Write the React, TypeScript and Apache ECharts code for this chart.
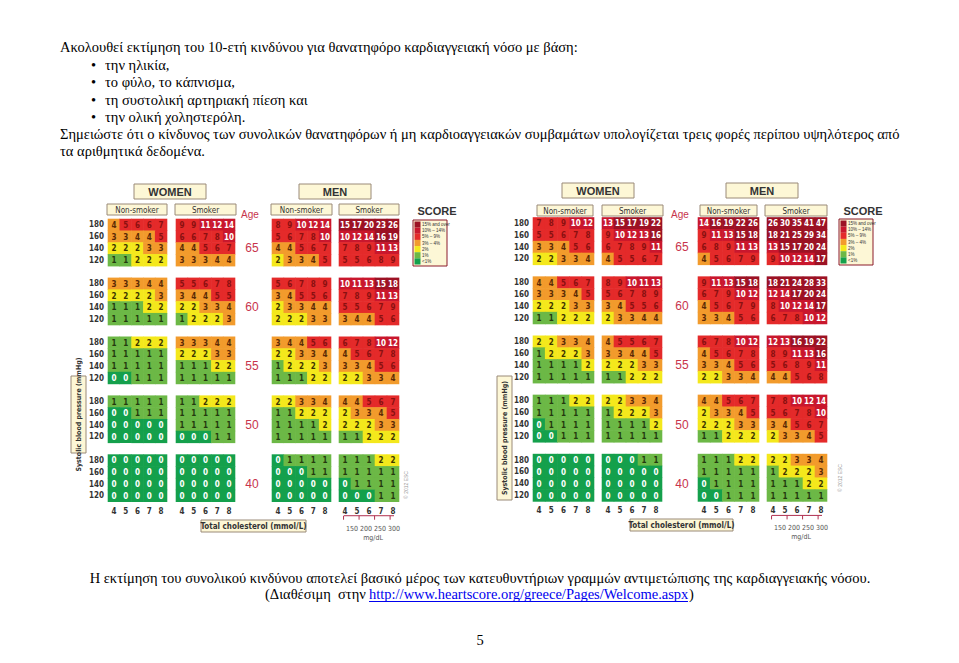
import React, { useEffect, useRef } from "react";
import * as echarts from "echarts";

// ---------- labels ----------
const ageLabels = ["65", "60", "55", "50", "40"];
const sbpLabels = ["180", "160", "140", "120"];
const cholLabels = ["4", "5", "6", "7", "8"];
const riskLegend = ["15% and over", "10% – 14%", "5% – 9%", "3% – 4%", "2%", "1%", "<1%"];
const mgdlLabels = ["150", "200", "250", "300"];
const mgdlValues = [150, 200, 250, 300];

// ---------- left chart (age blocks 65,60,55,50,40; rows SBP 180..120; cols chol 4..8) ----------
const leftWomenNonSmoker = [
  [[4, 5, 6, 6, 7], [3, 3, 4, 4, 5], [2, 2, 2, 3, 3], [1, 1, 2, 2, 2]],
  [[3, 3, 3, 4, 4], [2, 2, 2, 2, 3], [1, 1, 1, 2, 2], [1, 1, 1, 1, 1]],
  [[1, 1, 2, 2, 2], [1, 1, 1, 1, 1], [1, 1, 1, 1, 1], [0, 0, 1, 1, 1]],
  [[1, 1, 1, 1, 1], [0, 0, 1, 1, 1], [0, 0, 0, 0, 0], [0, 0, 0, 0, 0]],
  [[0, 0, 0, 0, 0], [0, 0, 0, 0, 0], [0, 0, 0, 0, 0], [0, 0, 0, 0, 0]],
];
const leftWomenSmoker = [
  [[9, 9, 11, 12, 14], [6, 6, 7, 8, 10], [4, 4, 5, 6, 7], [3, 3, 3, 4, 4]],
  [[5, 5, 6, 7, 8], [3, 4, 4, 5, 5], [2, 2, 3, 3, 4], [1, 2, 2, 2, 3]],
  [[3, 3, 3, 4, 4], [2, 2, 2, 3, 3], [1, 1, 1, 2, 2], [1, 1, 1, 1, 1]],
  [[1, 1, 2, 2, 2], [1, 1, 1, 1, 1], [1, 1, 1, 1, 1], [0, 0, 0, 1, 1]],
  [[0, 0, 0, 0, 0], [0, 0, 0, 0, 0], [0, 0, 0, 0, 0], [0, 0, 0, 0, 0]],
];
const leftMenNonSmoker = [
  [[8, 9, 10, 12, 14], [5, 6, 7, 8, 10], [4, 4, 5, 6, 7], [2, 3, 3, 4, 5]],
  [[5, 6, 7, 8, 9], [3, 4, 5, 5, 6], [2, 3, 3, 4, 4], [2, 2, 2, 3, 3]],
  [[3, 4, 4, 5, 6], [2, 2, 3, 3, 4], [1, 2, 2, 2, 3], [1, 1, 1, 2, 2]],
  [[2, 2, 3, 3, 4], [1, 1, 2, 2, 2], [1, 1, 1, 1, 2], [1, 1, 1, 1, 1]],
  [[0, 1, 1, 1, 1], [0, 0, 0, 1, 1], [0, 0, 0, 0, 0], [0, 0, 0, 0, 0]],
];
const leftMenSmoker = [
  [[15, 17, 20, 23, 26], [10, 12, 14, 16, 19], [7, 8, 9, 11, 13], [5, 5, 6, 8, 9]],
  [[10, 11, 13, 15, 18], [7, 8, 9, 11, 13], [5, 5, 6, 7, 9], [3, 4, 4, 5, 6]],
  [[6, 7, 8, 10, 12], [4, 5, 6, 7, 8], [3, 3, 4, 5, 6], [2, 2, 3, 3, 4]],
  [[4, 4, 5, 6, 7], [2, 3, 3, 4, 5], [2, 2, 2, 3, 3], [1, 1, 2, 2, 2]],
  [[1, 1, 1, 2, 2], [1, 1, 1, 1, 1], [0, 1, 1, 1, 1], [0, 0, 0, 1, 1]],
];

// ---------- right chart ----------
const rightWomenNonSmoker = [
  [[7, 8, 9, 10, 12], [5, 5, 6, 7, 8], [3, 3, 4, 5, 6], [2, 2, 3, 3, 4]],
  [[4, 4, 5, 6, 7], [3, 3, 3, 4, 5], [2, 2, 2, 3, 3], [1, 1, 2, 2, 2]],
  [[2, 2, 3, 3, 4], [1, 2, 2, 2, 3], [1, 1, 1, 1, 2], [1, 1, 1, 1, 1]],
  [[1, 1, 1, 2, 2], [1, 1, 1, 1, 1], [0, 1, 1, 1, 1], [0, 0, 1, 1, 1]],
  [[0, 0, 0, 0, 0], [0, 0, 0, 0, 0], [0, 0, 0, 0, 0], [0, 0, 0, 0, 0]],
];
const rightWomenSmoker = [
  [[13, 15, 17, 19, 22], [9, 10, 12, 13, 16], [6, 7, 8, 9, 11], [4, 5, 5, 6, 7]],
  [[8, 9, 10, 11, 13], [5, 6, 7, 8, 9], [3, 4, 5, 5, 6], [2, 3, 3, 4, 4]],
  [[4, 5, 5, 6, 7], [3, 3, 4, 4, 5], [2, 2, 2, 3, 3], [1, 1, 2, 2, 2]],
  [[2, 2, 3, 3, 4], [1, 2, 2, 2, 3], [1, 1, 1, 1, 2], [1, 1, 1, 1, 1]],
  [[0, 0, 0, 1, 1], [0, 0, 0, 0, 0], [0, 0, 0, 0, 0], [0, 0, 0, 0, 0]],
];
const rightMenNonSmoker = [
  [[14, 16, 19, 22, 26], [9, 11, 13, 15, 18], [6, 8, 9, 11, 13], [4, 5, 6, 7, 9]],
  [[9, 11, 13, 15, 18], [6, 7, 9, 10, 12], [4, 5, 6, 7, 9], [3, 3, 4, 5, 6]],
  [[6, 7, 8, 10, 12], [4, 5, 6, 7, 8], [3, 3, 4, 5, 6], [2, 2, 3, 3, 4]],
  [[4, 4, 5, 6, 7], [2, 3, 3, 4, 5], [2, 2, 2, 3, 3], [1, 1, 2, 2, 2]],
  [[1, 1, 1, 2, 2], [1, 1, 1, 1, 1], [0, 1, 1, 1, 1], [0, 0, 1, 1, 1]],
];
const rightMenSmoker = [
  [[26, 30, 35, 41, 47], [18, 21, 25, 29, 34], [13, 15, 17, 20, 24], [9, 10, 12, 14, 17]],
  [[18, 21, 24, 28, 33], [12, 14, 17, 20, 24], [8, 10, 12, 14, 17], [6, 7, 8, 10, 12]],
  [[12, 13, 16, 19, 22], [8, 9, 11, 13, 16], [5, 6, 8, 9, 11], [4, 4, 5, 6, 8]],
  [[7, 8, 10, 12, 14], [5, 6, 7, 8, 10], [3, 4, 5, 6, 7], [2, 3, 3, 4, 5]],
  [[2, 2, 3, 3, 4], [1, 2, 2, 2, 3], [1, 1, 1, 2, 2], [1, 1, 1, 1, 1]],
];

const leftGroups = [leftWomenNonSmoker, leftWomenSmoker, leftMenNonSmoker, leftMenSmoker];
const rightGroups = [rightWomenNonSmoker, rightWomenSmoker, rightMenNonSmoker, rightMenSmoker];

// ---------- texts ----------
const introLine = "Ακολουθεί εκτίμηση του 10-ετή κινδύνου για θανατηφόρο καρδιαγγειακή νόσο με βάση:";
const bulletItems = ["την ηλικία,", "το φύλο, το κάπνισμα,", "τη συστολική αρτηριακή πίεση και", "την ολική χοληστερόλη."];
const noteLine1 = "Σημειώστε ότι ο κίνδυνος των συνολικών θανατηφόρων ή μη καρδιοαγγειακών συμβαμάτων υπολογίζεται τρεις φορές περίπου υψηλότερος από";
const noteLine2 = "τα αριθμητικά δεδομένα.";
const footLine = "Η εκτίμηση του συνολικού κινδύνου αποτελεί βασικό μέρος των κατευθυντήριων γραμμών αντιμετώπισης της καρδιαγγειακής νόσου.";
const footPrefix = "(Διαθέσιμη  στην ";
const footLink = "http://www.heartscore.org/greece/Pages/Welcome.aspx";
const footSuffix = ")";
const pageNumber = "5";

// ---------- styling ----------
const SANS = '"Liberation Sans Narrow", "DejaVu Sans Condensed", "Liberation Sans", Arial, sans-serif';
const SANS_REG = '"Liberation Sans", Arial, sans-serif';
const SERIF = '"Liberation Serif", "Times New Roman", serif';
const riskColors = ["#9c1224", "#c9172d", "#e42a2a", "#f29b2c", "#f4e81c", "#6cb846", "#14a04c"];
const cream = "#fdf7d6";
const boxStroke = "#9a8a78";
const ageRed = "#c8344c";

function cellColor(v: number) {
  if (v >= 15) return riskColors[0];
  if (v >= 10) return riskColors[1];
  if (v >= 5) return riskColors[2];
  if (v >= 3) return riskColors[3];
  if (v >= 2) return riskColors[4];
  if (v >= 1) return riskColors[5];
  return riskColors[6];
}
function textColor(v: number) {
  if (v >= 10 || v < 1) return "#ffffff";
  if (v >= 5) return "#8a1010";
  if (v >= 3) return "#5a2a05";
  if (v >= 2) return "#3d3500";
  return "#24380e";
}

const layouts = [
  {
    top: 219, rowH: 11.78,
    blocks: [[108, 59], [176, 59], [272, 59], [339, 60]],
    womenBox: [134, 184, 72, 15], menBox: [299, 184, 72, 15],
    subBoxes: [[107, 204, 60, 11], [175, 204, 61, 11], [271, 204, 61, 11], [339, 204, 60, 11]],
    ageX: 252, ageTitle: [250, 214], scoreTitle: [437, 211],
    legend: [413, 220, 34, 46],
    sysBox: [71, 376, 15, 77],
    cholBox: [201, 520, 105, 12],
    copyright: [406, 485],
    xMargin: 6,
  },
  {
    top: 217.5, rowH: 11.83,
    blocks: [[533, 61], [602, 60], [698, 61], [767, 60]],
    womenBox: [562, 183, 72, 15], menBox: [726, 183, 72, 15],
    subBoxes: [[537, 205, 56, 11], [602, 205, 61, 11], [700, 205, 57, 11], [765, 205, 62, 11]],
    ageX: 682, ageTitle: [680, 214], scoreTitle: [863, 211],
    legend: [839, 219, 34, 46],
    sysBox: [497, 376, 15, 124],
    cholBox: [630, 519, 103, 12],
    copyright: [840, 478],
    xMargin: 5,
  },
];

const yCats: string[] = [];
ageLabels.forEach((a, i) => {
  sbpLabels.forEach((s) => yCats.push(a + "|" + s));
  if (i < ageLabels.length - 1) yCats.push(a + "|gap");
});

function buildData(group: number[][][]) {
  const out: number[][] = [];
  group.forEach((block, a) => {
    block.forEach((row, r) => {
      row.forEach((v, c) => out.push([c, a * 5 + r, v]));
    });
  });
  return out;
}

const renderItem = (params: any, api: any) => {
  const x = api.value(0);
  const y = api.value(1);
  const v = api.value(2);
  const p = api.coord([x, y]);
  const s = api.size([1, 1]);
  return {
    type: "group",
    children: [
      {
        type: "rect",
        shape: { x: p[0] - s[0] / 2 - 0.3, y: p[1] - s[1] / 2 - 0.3, width: s[0] + 0.6, height: s[1] + 0.6 },
        style: { fill: cellColor(v) },
      },
      {
        type: "text",
        x: p[0],
        y: p[1] + 0.5,
        style: {
          text: String(v),
          align: "center",
          verticalAlign: "middle",
          fill: textColor(v),
          font: "bold 8px " + SANS,
        },
      },
    ],
  };
};

function boxWithText(x: number, y: number, w: number, h: number, text: string, font: string) {
  return [
    { type: "rect", shape: { x, y, width: w, height: h }, style: { fill: cream, stroke: boxStroke, lineWidth: 1 } },
    { type: "text", x: x + w / 2, y: y + h / 2 + 0.5, style: { text, align: "center", verticalAlign: "middle", font, fill: "#333" } },
  ];
}

function buildOption() {
  const grid: any[] = [];
  const xAxis: any[] = [];
  const yAxis: any[] = [];
  const series: any[] = [];
  const graphic: any[] = [];

  const groupsByChart = [leftGroups, rightGroups];

  layouts.forEach((L, k) => {
    L.blocks.forEach(([left, w], g) => {
      const idx = grid.length;
      grid.push({ left, top: L.top, width: w, height: L.rowH * yCats.length, containLabel: false });
      xAxis.push({
        type: "category", gridIndex: idx, data: cholLabels, position: "bottom",
        axisLine: { show: false }, axisTick: { show: false }, splitLine: { show: false },
        axisLabel: { interval: 0, margin: L.xMargin, fontSize: 8, fontWeight: "bold", color: "#333", fontFamily: SANS },
      });
      yAxis.push({
        type: "category", gridIndex: idx, data: yCats, inverse: true,
        axisLine: { show: false }, axisTick: { show: false }, splitLine: { show: false },
        axisLabel: {
          show: g === 0, interval: 0, margin: 4, fontSize: 8, fontWeight: "bold", color: "#333", fontFamily: SANS,
          formatter: (v: string) => { const part = v.split("|")[1]; return part === "gap" ? "" : part; },
        },
      });
      series.push({
        type: "custom", xAxisIndex: idx, yAxisIndex: idx, silent: true, clip: false,
        data: buildData(groupsByChart[k][g]), renderItem,
      });
    });

    // headers
    graphic.push(...boxWithText(L.womenBox[0], L.womenBox[1], L.womenBox[2], L.womenBox[3], "WOMEN", "bold 11px " + SANS_REG));
    graphic.push(...boxWithText(L.menBox[0], L.menBox[1], L.menBox[2], L.menBox[3], "MEN", "bold 11px " + SANS_REG));
    ["Non-smoker", "Smoker", "Non-smoker", "Smoker"].forEach((t, i) => {
      const b = L.subBoxes[i];
      graphic.push(...boxWithText(b[0], b[1], b[2], b[3], t, "8px " + SANS));
    });
    graphic.push({ type: "text", x: L.ageTitle[0], y: L.ageTitle[1], style: { text: "Age", align: "center", verticalAlign: "middle", font: "10px " + SANS_REG, fill: ageRed } });
    graphic.push({ type: "text", x: L.scoreTitle[0], y: L.scoreTitle[1], style: { text: "SCORE", align: "center", verticalAlign: "middle", font: "bold 11px " + SANS_REG, fill: "#333" } });

    // age labels
    ageLabels.forEach((a, i) => {
      graphic.push({
        type: "text", x: L.ageX, y: L.top + (i * 5 + 2.5) * L.rowH,
        style: { text: a, align: "center", verticalAlign: "middle", font: "12px " + SANS_REG, fill: ageRed },
      });
    });

    // legend
    const [lx, ly, lw, lh] = L.legend;
    graphic.push({ type: "rect", shape: { x: lx, y: ly, width: lw, height: lh }, style: { fill: cream, stroke: "#8b1a2b", lineWidth: 1 } });
    const sh = (lh - 3) / riskLegend.length;
    riskLegend.forEach((t, i) => {
      graphic.push({ type: "rect", shape: { x: lx + 1.5, y: ly + 1.5 + i * sh, width: 6, height: sh }, style: { fill: riskColors[i] } });
      graphic.push({ type: "text", x: lx + 9, y: ly + 1.5 + (i + 0.5) * sh, style: { text: t, align: "left", verticalAlign: "middle", font: "4.5px " + SANS_REG, fill: "#333" } });
    });

    // systolic label
    const [sx, sy, sw, shh] = L.sysBox;
    graphic.push({ type: "rect", shape: { x: sx, y: sy, width: sw, height: shh }, style: { fill: cream, stroke: boxStroke, lineWidth: 1 } });
    graphic.push({ type: "text", x: sx + sw / 2, y: sy + shh / 2, rotation: Math.PI / 2, style: { text: "Systolic blood pressure (mmHg)", align: "center", verticalAlign: "middle", font: "bold 7px " + SANS, fill: "#333" } });

    // cholesterol box
    const cb = L.cholBox;
    graphic.push(...boxWithText(cb[0], cb[1], cb[2], cb[3], "Total cholesterol (mmol/L)", "bold 8px " + SANS));

    // mg/dL scale under the men smoker block
    const [msLeft, msW] = L.blocks[3];
    const cw = msW / 5;
    const x4 = msLeft + cw / 2;
    const lineY = L.top + L.rowH * yCats.length + 14;
    const tickXs = mgdlValues.map((m) => x4 + (m / 38.67 - 4) * cw);
    graphic.push({ type: "line", shape: { x1: x4 - 1, y1: lineY, x2: x4 + 4 * cw + 1, y2: lineY }, style: { stroke: "#b03050", lineWidth: 1 } });
    tickXs.forEach((tx) => graphic.push({ type: "line", shape: { x1: tx, y1: lineY, x2: tx, y2: lineY + 4 }, style: { stroke: "#b03050", lineWidth: 1 } }));
    graphic.push({ type: "text", x: msLeft + msW / 2 + 4, y: lineY + 13, style: { text: mgdlLabels.join(" "), align: "center", verticalAlign: "middle", font: "7px " + SANS, fill: "#555" } });
    graphic.push({ type: "text", x: msLeft + msW / 2 + 4, y: lineY + 22, style: { text: "mg/dL", align: "center", verticalAlign: "middle", font: "7px " + SANS, fill: "#555" } });

    // copyright
    graphic.push({ type: "text", x: L.copyright[0], y: L.copyright[1], rotation: Math.PI / 2, style: { text: "© 2012 ESC", align: "center", verticalAlign: "middle", font: "5px " + SANS_REG, fill: "#999" } });
  });

  // document texts
  const DOC_FONT = "14.5px " + SERIF;
  const t = (text: string, x: number, y: number, extra: any = {}) => ({
    type: "text", x, y,
    style: { text, align: "left", verticalAlign: "middle", font: DOC_FONT, fill: "#000", ...extra },
  });
  graphic.push(t(introLine, 60, 47));
  bulletItems.forEach((b, i) => {
    const y = [65, 82, 100, 117][i];
    graphic.push(t("•", 91, y));
    graphic.push(t(b, 105, y));
  });
  graphic.push(t(noteLine1, 60, 134));
  graphic.push(t(noteLine2, 60, 151));
  graphic.push(t(footLine, 480, 578, { align: "center" }));
  graphic.push(t(footPrefix, 265, 594));
  graphic.push(t(footLink, 369, 594, { fill: "#0000ee" }));
  graphic.push({ type: "line", shape: { x1: 369, y1: 601.5, x2: 688, y2: 601.5 }, style: { stroke: "#0000ee", lineWidth: 1 } });
  graphic.push(t(footSuffix, 689, 594));
  graphic.push(t(pageNumber, 480, 640, { align: "center" }));

  return {
    animation: false,
    backgroundColor: "#ffffff",
    grid, xAxis, yAxis, series, graphic,
  };
}

export default function App() {
  const ref = useRef<HTMLDivElement>(null);
  useEffect(() => {
    if (!ref.current) return;
    const chart = echarts.init(ref.current, null, { renderer: "svg" });
    chart.setOption(buildOption() as any);
    return () => chart.dispose();
  }, []);
  return (
    <div
      ref={ref}
      style={{ position: "absolute", left: 0, top: 0, width: 959, height: 663, background: "#fff" }}
    />
  );
}
